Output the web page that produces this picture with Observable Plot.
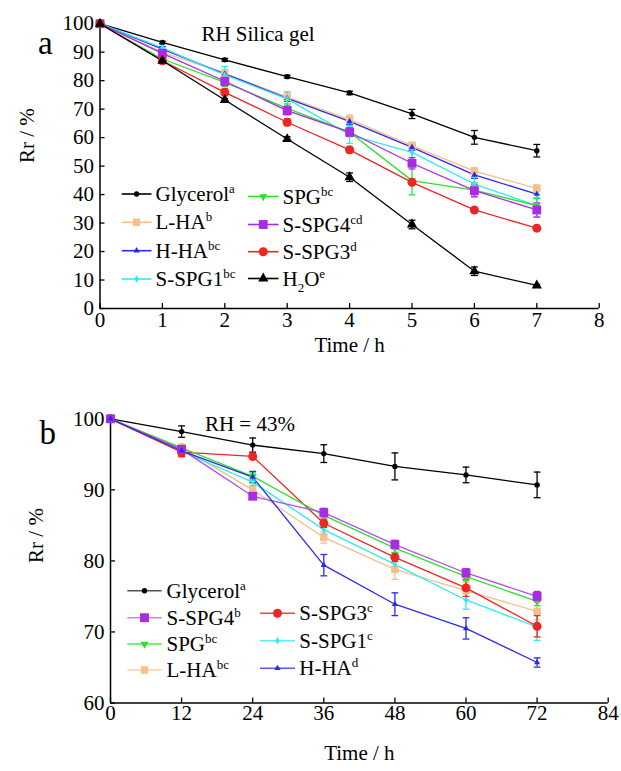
<!DOCTYPE html>
<html><head><meta charset="utf-8">
<script src="https://cdn.jsdelivr.net/npm/d3@7"></script>
<script src="https://cdn.jsdelivr.net/npm/@observablehq/plot@0.6"></script>
<style>
body{margin:0;background:#fff;}
#wrap{width:621px;}
#wrap svg{display:block;}
</style>
</head><body><div id="wrap"></div>
<script>
// ---------- Panel a data (RH silica gel) ----------
const timeA = [0, 1, 2, 3, 4, 5, 6, 7];
const xTicksA = [0, 1, 2, 3, 4, 5, 6, 7, 8];
const yTicksA = [0, 10, 20, 30, 40, 50, 60, 70, 80, 90, 100];
const glycerolA = [100, 93.4, 87.3, 81.4, 75.7, 68.3, 60.1, 55.4];
const glycerolAerr = [0, 0.4, 0.5, 0.5, 0.6, 1.6, 2.4, 2.2];
const lhaA = [100, 89.9, 82.6, 74.2, 66.4, 57.2, 48.2, 42.2];
const lhaAerr = [0, 1.0, 1.2, 1.5, 1.5, 1.2, 1.2, 1.2];
const hhaA = [100, 91.1, 82.4, 73.8, 65.7, 56.6, 46.9, 40.2];
const hhaAerr = [0, 0.8, 1.0, 1.0, 1.2, 1.0, 1.2, 1.5];
const sspg1A = [100, 91.5, 82.0, 73.6, 61.0, 54.8, 43.7, 36.1];
const sspg1Aerr = [0, 1.2, 3.0, 2.5, 3.0, 2.5, 2.5, 4.0];
const spgA = [100, 87.6, 79.4, 70.3, 61.9, 44.9, 41.6, 36.1];
const spgAerr = [0, 1.2, 1.5, 1.5, 1.5, 5.0, 2.5, 2.5];
const sspg4A = [100, 89.6, 79.8, 69.5, 61.9, 51.0, 41.4, 34.6];
const sspg4Aerr = [0, 1.0, 1.5, 1.5, 1.5, 2.0, 2.0, 2.5];
const sspg3A = [100, 87.0, 75.9, 65.4, 55.7, 44.3, 34.6, 28.2];
const sspg3Aerr = [0, 1.0, 1.2, 1.2, 1.0, 0.5, 0.5, 0.4];
const h2oA = [100, 87.0, 73.2, 59.5, 46.1, 29.5, 13.1, 8.1];
const h2oAerr = [0, 0.5, 0.5, 0.8, 1.5, 1.5, 1.5, 0.3];

// ---------- Panel b data (RH = 43%) ----------
const timeB = [0, 12, 24, 36, 48, 60, 72];
const xTicksB = [0, 12, 24, 36, 48, 60, 72, 84];
const yTicksB = [60, 70, 80, 90, 100];
const glycerolB = [100, 98.2, 96.3, 95.1, 93.3, 92.1, 90.7];
const glycerolBerr = [0, 0.8, 1.0, 1.25, 1.9, 1.1, 1.8];
const sspg4B = [100, 95.7, 89.1, 86.8, 82.3, 78.3, 75.0];
const sspg4Berr = [0, 0.3, 0.3, 0.6, 0.6, 0.6, 0.7];
const spgB = [100, 95.9, 91.9, 86.4, 81.8, 77.8, 74.3];
const spgBerr = [0, 0.5, 0.5, 0.6, 0.6, 0.6, 0.6];
const lhaB = [100, 95.9, 90.0, 83.3, 78.8, 75.8, 72.9];
const lhaBerr = [0, 0.5, 0.5, 0.8, 1.4, 1.2, 1.2];
const sspg3B = [100, 95.3, 94.7, 85.3, 80.5, 76.2, 70.8];
const sspg3Berr = [0, 0.6, 0.3, 0.6, 0.6, 1.2, 1.5];
const sspg1B = [100, 95.4, 91.1, 84.4, 79.5, 74.5, 70.7];
const sspg1Berr = [0, 0.8, 0.5, 0.6, 0.8, 1.3, 1.9];
const hhaB = [100, 95.5, 91.8, 79.4, 73.9, 70.5, 65.7];
const hhaBerr = [0, 0.6, 0.8, 1.5, 1.6, 1.5, 0.65];

// ---------- styles ----------
const FONT = "'Liberation Serif', 'Times New Roman', serif";
const style = {
  Glycerol: {color: "#000000", symbol: "circle", r: 2.7},
  "L-HA": {color: "#F5C08C", symbol: "square", r: 4.2},
  "H-HA": {color: "#2A2AF0", symbol: "triangle", r: 2.3},
  "S-SPG1": {color: "#2EEAF2", symbol: "diamond", r: 2.3},
  SPG: {color: "#2EE02E", symbol: "triangle", r: 3.0, rotate: 180},
  "S-SPG4": {color: "#A82CE0", symbol: "square", r: 5.0},
  "S-SPG3": {color: "#F02424", symbol: "circle", r: 4.5},
  H2O: {color: "#000000", symbol: "triangle", r: 3.8}
};
const lineColorB = {Glycerol: "#000000", "S-SPG4": "#B050E8", SPG: "#2EE02E", "L-HA": "#F5C08C", "S-SPG3": "#F02424", "S-SPG1": "#2EEAF2", "H-HA": "#2A2AF0"};
const legendLineB = {Glycerol: "#555555", "S-SPG4": "#C68AE6", SPG: "#44EE44", "L-HA": "#F8D2AC", "S-SPG3": "#F04848", "S-SPG1": "#5CEEF4", "H-HA": "#5A5AF0"};

const seriesA = [
  ["Glycerol", glycerolA, glycerolAerr], ["L-HA", lhaA, lhaAerr], ["H-HA", hhaA, hhaAerr],
  ["S-SPG1", sspg1A, sspg1Aerr], ["SPG", spgA, spgAerr], ["S-SPG4", sspg4A, sspg4Aerr],
  ["S-SPG3", sspg3A, sspg3Aerr], ["H2O", h2oA, h2oAerr]
];
const seriesB = [
  ["Glycerol", glycerolB, glycerolBerr], ["L-HA", lhaB, lhaBerr], ["S-SPG1", sspg1B, sspg1Berr],
  ["S-SPG3", sspg3B, sspg3Berr], ["SPG", spgB, spgBerr], ["S-SPG4", sspg4B, sspg4Berr],
  ["H-HA", hhaB, hhaBerr]
];

const cap = {draw(ctx, size) { const w = Math.sqrt(size / Math.PI); ctx.moveTo(-w, 0); ctx.lineTo(w, 0); }};

function seriesMarks(list, times, lineColors) {
  const rows = list.map(([name, vals, errs]) => vals.map((v, i) => ({name, t: times[i], v, e: errs[i]})));
  const lines = [], errs = [], dots = [];
  rows.forEach(rs => {
    const s = style[rs[0].name];
    const lc = lineColors ? lineColors[rs[0].name] : s.color;
    lines.push(Plot.line(rs, {x: "t", y: "v", stroke: lc, strokeWidth: 1.3}));
    const er = rs.filter(d => d.e > 0);
    errs.push(Plot.ruleX(er, {x: "t", y1: d => d.v - d.e, y2: d => d.v + d.e, stroke: s.color, strokeWidth: 1.3}));
    errs.push(Plot.dot(er, {x: "t", y: d => d.v + d.e, symbol: cap, r: 3.4, stroke: s.color, strokeWidth: 1.3, fill: "none"}));
    errs.push(Plot.dot(er, {x: "t", y: d => d.v - d.e, symbol: cap, r: 3.4, stroke: s.color, strokeWidth: 1.3, fill: "none"}));
    dots.push(Plot.dot(rs, {x: "t", y: "v", symbol: s.symbol, r: s.r, fill: s.color, stroke: "none", rotate: s.rotate || 0}));
  });
  return [...lines, ...errs, ...dots];
}

const svgStyle = {fontFamily: FONT, fontSize: "21px", color: "#000", background: "#fff", overflow: "visible"};

const plotA = Plot.plot({
  width: 621, height: 360,
  marginLeft: 99.5, marginRight: 22.3, marginTop: 23.2, marginBottom: 52,
  x: {domain: [0, 8]}, y: {domain: [0, 100]},
  style: svgStyle,
  marks: [
    Plot.axisX({ticks: xTicksA, tickSize: -5, tickPadding: 9, label: null, tickFormat: d => String(d), strokeWidth: 1.3}),
    Plot.axisY({ticks: yTicksA, tickSize: -5, tickPadding: 11, label: null, tickFormat: d => String(d), strokeWidth: 1.3}),
    Plot.ruleX([0], {strokeWidth: 1.5}),
    Plot.ruleY([0], {strokeWidth: 1.5}),
    ...seriesMarks(seriesA, timeA, null),
    Plot.text(["a"], {text: d => d, frameAnchor: "top-left", dx: -62, dy: 7, fontSize: 33}),
    Plot.text(["RH Silica gel"], {text: d => d, frameAnchor: "top", dx: -91.6, dy: 2, fontSize: 21}),
    Plot.text(["Time / h"], {text: d => d, frameAnchor: "bottom", dy: 43, fontSize: 21}),
    Plot.text(["Rr / %"], {text: d => d, frameAnchor: "left", dx: -73, dy: -3, rotate: -90, fontSize: 21})
  ]
});

const plotB = Plot.plot({
  width: 621, height: 411,
  marginLeft: 110, marginRight: 13.3, marginTop: 58.3, marginBottom: 68.5,
  x: {domain: [0, 84]}, y: {domain: [60, 100]},
  style: svgStyle,
  marks: [
    Plot.axisX({ticks: xTicksB, tickSize: -5, tickPadding: 7, label: null, tickFormat: d => String(d), strokeWidth: 1.3}),
    Plot.axisY({ticks: yTicksB, tickSize: -5, tickPadding: 11, label: null, tickFormat: d => String(d), strokeWidth: 1.3}),
    Plot.ruleX([0], {strokeWidth: 1.5}),
    Plot.ruleY([60], {strokeWidth: 1.5}),
    ...seriesMarks(seriesB, timeB, lineColorB),
    Plot.text(["b"], {text: d => d, frameAnchor: "top-left", dx: -71, dy: 2, fontSize: 33}),
    Plot.text(["RH = 43%"], {text: d => d, frameAnchor: "top", dx: -109.4, dy: -3, fontSize: 21}),
    Plot.text(["Time / h"], {text: d => d, frameAnchor: "bottom", dy: 56.5, fontSize: 21}),
    Plot.text(["Rr / %"], {text: d => d, frameAnchor: "left", dx: -74, dy: 2, rotate: -90, fontSize: 21})
  ]
});

const wrap = document.getElementById("wrap");
wrap.appendChild(plotA);
wrap.appendChild(plotB);

// ---------- legends ----------
const symMap = {circle: d3.symbolCircle, square: d3.symbolSquare, triangle: d3.symbolTriangle, diamond: d3.symbolDiamond};
const legendA = [
  {name: "Glycerol", sup: "a", col: 0, row: 0}, {name: "L-HA", sup: "b", col: 0, row: 1},
  {name: "H-HA", sup: "bc", col: 0, row: 2}, {name: "S-SPG1", sup: "bc", col: 0, row: 3},
  {name: "SPG", sup: "bc", col: 1, row: 0}, {name: "S-SPG4", sup: "cd", col: 1, row: 1},
  {name: "S-SPG3", sup: "d", col: 1, row: 2}, {name: "H2O", sup: "e", col: 1, row: 3}
];
const legendB = [
  {name: "Glycerol", sup: "a", col: 0, row: 0}, {name: "S-SPG4", sup: "b", col: 0, row: 1},
  {name: "SPG", sup: "bc", col: 0, row: 2}, {name: "L-HA", sup: "bc", col: 0, row: 3},
  {name: "S-SPG3", sup: "c", col: 1, row: 1}, {name: "S-SPG1", sup: "c", col: 1, row: 2},
  {name: "H-HA", sup: "d", col: 1, row: 3}
];

function drawLegend(svgNode, items, layout, lineColors) {
  const g = d3.select(svgNode).append("g").attr("font-family", FONT).attr("font-size", 21).attr("text-anchor", "start");
  items.forEach(it => {
    const s = style[it.name];
    const c = layout.cols[it.col];
    const y = layout.rowY[it.col][it.row];
    const lc = lineColors ? lineColors[it.name] : s.color;
    g.append("line").attr("x1", c.x1).attr("x2", c.x2).attr("y1", y).attr("y2", y)
      .attr("stroke", lc).attr("stroke-width", 1.6);
    g.append("path").attr("d", d3.symbol(symMap[s.symbol], s.r * s.r * Math.PI)())
      .attr("transform", `translate(${(c.x1 + c.x2) / 2},${y}) rotate(${s.rotate || 0})`)
      .attr("fill", s.color);
    const t = g.append("text").attr("x", c.tx).attr("y", y + 7).attr("fill", "#000").attr("text-anchor", "start");
    if (it.name === "H2O") {
      t.append("tspan").text("H");
      t.append("tspan").attr("font-size", 13).attr("dy", 6).text("2");
      t.append("tspan").attr("dy", -6).text("O");
    } else {
      t.append("tspan").text(it.name);
    }
    t.append("tspan").attr("font-size", 13).attr("dy", -8).text(it.sup);
  });
}

drawLegend(plotA, legendA, {
  cols: [{x1: 121.7, x2: 151.5, tx: 155.5}, {x1: 248, x2: 278.5, tx: 282.5}],
  rowY: [[194, 222.3, 250.7, 279], [196.5, 224.5, 251.7, 278.5]]
}, null);
drawLegend(plotB, legendB, {
  cols: [{x1: 127.3, x2: 161.7, tx: 166.5}, {x1: 260, x2: 295, tx: 299.3}],
  rowY: [[230.7, 257.7, 284, 310], [0, 253.3, 280.7, 308.3]]
}, legendLineB);
</script>
</body></html>
